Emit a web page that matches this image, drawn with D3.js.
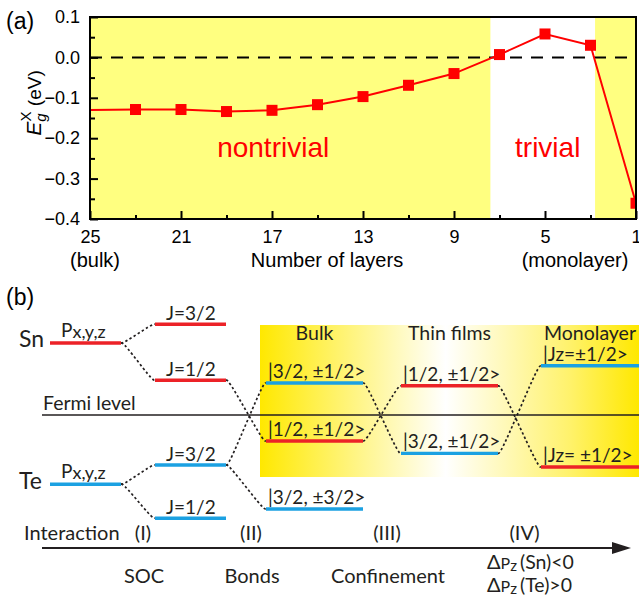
<!DOCTYPE html>
<html><head><meta charset="utf-8">
<script src="https://cdn.jsdelivr.net/npm/d3@7"></script>
<style>body{margin:0;background:#fff}svg{display:block}</style>
</head><body><svg id="c" width="639" height="597"></svg>
<script>
// ---------------- Panel (a) data ----------------
const layers = [25,23,21,19,17,15,13,11,9,7,5,3,1];
const gapEV  = [-0.130,-0.129,-0.129,-0.134,-0.131,-0.117,-0.097,-0.069,-0.040,0.007,0.058,0.030,-0.361];
const xTickValues = [25,21,17,13,9,5,1];
const xMinorValues = [23,19,15,11,7,3];
const yTickValues = [0.1,0.0,-0.1,-0.2,-0.3,-0.4];
const yMinorValues = [0.05,-0.05,-0.15,-0.25,-0.35];
const trivialSpan = [7.4, 2.8];
const phaseLabels = ["nontrivial","trivial"];
const xSubLabels = ["(bulk)","Number of layers","(monolayer)"];

// ---------------- Panel (b) data ----------------
const stageNames   = ["atom","soc","bulk","thin","mono"];
const levelStage   = ["atom","atom","soc","soc","soc","soc","bulk","bulk","bulk","thin","thin","mono","mono"];
const levelSpecies = ["Sn","Te","Sn","Sn","Te","Te","Te","Sn","Te","Sn","Te","Te","Sn"];
const levelEnergy  = [1.8,-1.73,2.27,0.87,-1.25,-2.58,0.8,-0.65,-2.35,0.73,-0.96,1.23,-1.3];
const levelLabel   = ["P|x,y,z","P|x,y,z","J=3/2","J=1/2","J=3/2","J=1/2","|3/2, ±1/2>","|1/2, ±1/2>","|3/2, ±3/2>","|1/2, ±1/2>","|3/2, ±1/2>","|Jz=±1/2>","|Jz= ±1/2>"];
const links = [[0,2],[0,3],[1,4],[1,5],[3,7],[4,6],[4,8],[6,10],[7,9],[9,12],[10,11]];
const atomNames = ["Sn","Te"];
const regimeLabels = ["Bulk","Thin films","Monolayer"];
const stepLabels = ["(I)","(II)","(III)","(IV)"];
const stepNames = ["SOC","Bonds","Confinement"];
const pzConditions = [["Sn","<0"],["Te",">0"]];

const svg = d3.select("#c");
const A = "'Liberation Sans', Arial, sans-serif";
const B = "Lato, 'Open Sans', sans-serif";
const INK = "#231f20";

// ================= Panel (a) =================
const pl = 90, pr = 636, pt = 17, pb = 219;
const x = d3.scaleLinear().domain([25,1]).range([pl,pr]);
const y = d3.scaleLinear().domain([-0.4,0.1]).range([pb,pt]);
const ga = svg.append("g");

ga.append("rect").attr("x",pl).attr("y",pt).attr("width",pr-pl).attr("height",pb-pt).attr("fill","#ffff80");
ga.append("rect").attr("x",x(trivialSpan[0])).attr("y",pt)
  .attr("width",x(trivialSpan[1])-x(trivialSpan[0])).attr("height",pb-pt).attr("fill","#fff");

ga.append("line").attr("x1",pl).attr("x2",pr).attr("y1",y(0)).attr("y2",y(0))
  .attr("stroke","#000").attr("stroke-width",2).attr("stroke-dasharray","12,9");

const defs = svg.append("defs");
defs.append("clipPath").attr("id","pa")
  .append("rect").attr("x",pl).attr("y",pt).attr("width",pr-pl).attr("height",pb-pt);

const pts = layers.map((l,i)=>({l, v:gapEV[i]}));
const gd = ga.append("g").attr("clip-path","url(#pa)");
gd.append("path").datum(pts)
  .attr("d", d3.line().x(d=>x(d.l)).y(d=>y(d.v)))
  .attr("fill","none").attr("stroke","#ff0000").attr("stroke-width",2);
const ms = 11;
gd.selectAll("rect.m").data(pts.slice(1)).join("rect").attr("class","m")
  .attr("x",d=>x(d.l)-ms/2).attr("y",d=>y(d.v)-ms/2).attr("width",ms).attr("height",ms).attr("fill","#ff0000");

// axes
const xAx = ga.append("g").attr("transform",`translate(0,${pb})`)
  .call(d3.axisBottom(x).tickValues(xTickValues).tickFormat(d3.format("d")).tickSizeInner(-8).tickSizeOuter(0).tickPadding(11));
const xAxm = ga.append("g").attr("transform",`translate(0,${pb})`)
  .call(d3.axisBottom(x).tickValues(xMinorValues).tickFormat("").tickSizeInner(-4).tickSizeOuter(0));
const yAx = ga.append("g").attr("transform",`translate(${pl},0)`)
  .call(d3.axisLeft(y).tickValues(yTickValues).tickFormat(d3.format(".1f")).tickSizeInner(-8).tickSizeOuter(0).tickPadding(10));
const yAxm = ga.append("g").attr("transform",`translate(${pl},0)`)
  .call(d3.axisLeft(y).tickValues(yMinorValues).tickFormat("").tickSizeInner(-5).tickSizeOuter(0));
[xAx,xAxm,yAx,yAxm].forEach(g=>{
  g.select(".domain").remove();
  g.selectAll("line").attr("stroke","#000").attr("stroke-width",2);
  g.selectAll("text").attr("font-family",A).attr("font-size",18).attr("fill","#000");
});
ga.append("rect").attr("x",pl).attr("y",pt).attr("width",pr-pl).attr("height",pb-pt)
  .attr("fill","none").attr("stroke","#000").attr("stroke-width",2);

// sub labels under the x axis
const subY = 267;
[[95,xSubLabels[0]],[327,xSubLabels[1]],[575,xSubLabels[2]]].forEach(([xx,t])=>{
  ga.append("text").attr("x",xx).attr("y",subY).text(t)
    .attr("font-family",A).attr("font-size",20).attr("text-anchor","middle").attr("fill","#000");
});

// phase labels
ga.append("text").attr("x",(x(25)+x(trivialSpan[0]))/2-17).attr("y",157).text(phaseLabels[0])
  .attr("font-family",A).attr("font-size",28).attr("fill","#ff0000").attr("text-anchor","middle");
ga.append("text").attr("x",(x(trivialSpan[0])+x(trivialSpan[1]))/2+5).attr("y",157).text(phaseLabels[1])
  .attr("font-family",A).attr("font-size",28).attr("fill","#ff0000").attr("text-anchor","middle");

// y label
const yl = svg.append("text").attr("transform","translate(41,103) rotate(-90)")
  .attr("text-anchor","middle").attr("font-family",A).attr("font-size",19).attr("fill","#000");
yl.append("tspan").attr("font-style","italic").attr("font-size",21).text("E");
yl.append("tspan").attr("font-style","italic").attr("font-size",15).attr("dy",5).text("g");
yl.append("tspan").attr("font-size",15).attr("dx",-8).attr("dy",-15).text("X");
yl.append("tspan").attr("dy",10).text(" (eV)");

svg.append("text").attr("x",6).attr("y",29).text("(a)").attr("font-family",A).attr("font-size",23);
svg.append("text").attr("x",6).attr("y",305).text("(b)").attr("font-family",A).attr("font-size",23);

// ================= Panel (b) =================
const gb = svg.append("g");
const stageExt = {atom:[50,121], soc:[155,226], bulk:[266,363], thin:[401,498], mono:[541,639]};
const E = d3.scaleLinear().domain([0,1]).range([415,375]);
const colorOf = d3.scaleOrdinal().domain(atomNames).range(["#ec2227","#1ba1e2"]);

// gradient box
const grad = defs.append("linearGradient").attr("id","yg").attr("x1","0").attr("x2","1").attr("y1","0").attr("y2","0");
grad.append("stop").attr("offset","0%").attr("stop-color","#ffe800");
grad.append("stop").attr("offset","14%").attr("stop-color","#fff04a");
grad.append("stop").attr("offset","49%").attr("stop-color","#ffffff");
grad.append("stop").attr("offset","82%").attr("stop-color","#fff26a");
grad.append("stop").attr("offset","100%").attr("stop-color","#ffe800");
gb.append("rect").attr("x",260).attr("y",325).attr("width",379).attr("height",152).attr("fill","url(#yg)");

// Fermi level
gb.append("line").attr("x1",42).attr("x2",639).attr("y1",E(0)).attr("y2",E(0)).attr("stroke",INK).attr("stroke-width",1.5);
gb.append("text").attr("x",43).attr("y",410).text("Fermi level").attr("font-family",B).attr("font-size",19.5).attr("fill",INK);

// links
const lvl = levelStage.map((s,i)=>({s, sp:levelSpecies[i], e:levelEnergy[i], lab:levelLabel[i], x0:stageExt[s][0], x1:stageExt[s][1]}));
const curve = d3.line().curve(d3.curveBasis);
gb.selectAll("path.lk").data(links).join("path").attr("class","lk")
  .attr("d",([a,b])=>{
    const p = [lvl[a].x1, E(lvl[a].e)], q = [lvl[b].x0, E(lvl[b].e)];
    return curve([p,[p[0]+3,p[1]],[q[0]-3,q[1]],q]);
  })
  .attr("fill","none").attr("stroke",INK).attr("stroke-width",1.7).attr("stroke-dasharray","2.4,2.4");

// levels
gb.selectAll("line.lv").data(lvl).join("line").attr("class","lv")
  .attr("x1",d=>d.x0).attr("x2",d=>d.x1).attr("y1",d=>E(d.e)).attr("y2",d=>E(d.e))
  .attr("stroke",d=>colorOf(d.sp)).attr("stroke-width",3.4);

// level labels
lvl.forEach(d=>{
  const yy = E(d.e);
  if (d.lab.includes("|x")) {
    const [p,sub] = d.lab.split("|");
    const t = gb.append("text").attr("x",d.x0+11).attr("y",yy-6).attr("font-family",B).attr("fill",INK);
    t.append("tspan").attr("font-size",19).text(p);
    t.append("tspan").attr("font-size",18).attr("dy",1).text(sub);
  } else if (d.s==="soc") {
    gb.append("text").attr("x",d.x0+11).attr("y",yy-4).text(d.lab).attr("font-family",B).attr("font-size",19).attr("fill",INK);
  } else {
    gb.append("text").attr("x",d.x0+2).attr("y",yy-5).text(d.lab).attr("font-family",B).attr("font-size",19).attr("fill",INK);
  }
});

// atom names
gb.append("text").attr("x",19).attr("y",347).text(atomNames[0]).attr("font-family",B).attr("font-size",23).attr("fill",INK);
gb.append("text").attr("x",19).attr("y",489).text(atomNames[1]).attr("font-family",B).attr("font-size",23).attr("fill",INK);

// regime labels
["bulk","thin","mono"].forEach((s,i)=>{
  gb.append("text").attr("x",(stageExt[s][0]+stageExt[s][1])/2).attr("y",340).text(regimeLabels[i])
    .attr("text-anchor","middle").attr("font-family",B).attr("font-size",19.5).attr("fill",INK);
});

// interaction axis
gb.append("text").attr("x",24).attr("y",540).text("Interaction").attr("font-family",B).attr("font-size",20).attr("fill",INK);
gb.append("line").attr("x1",42).attr("x2",618).attr("y1",548).attr("y2",548).attr("stroke",INK).attr("stroke-width",2);
gb.append("path").attr("d","M612,542 L631,548 L612,554 Z").attr("fill",INK);
const mids = d3.pairs(stageNames).map(([a,b])=>(stageExt[a][1]+stageExt[b][0])/2+5);
stepLabels.forEach((t,i)=>{
  gb.append("text").attr("x",mids[i]).attr("y",540).text(t).attr("text-anchor","middle")
    .attr("font-family",B).attr("font-size",20).attr("fill",INK);
});
stepNames.forEach((t,i)=>{
  gb.append("text").attr("x",mids[i]+1).attr("y",583).text(t).attr("text-anchor","middle")
    .attr("font-family",B).attr("font-size",20).attr("fill",INK);
});
pzConditions.forEach(([sp,c],i)=>{
  const t = gb.append("text").attr("x",487).attr("y",569+i*23).attr("font-family",B).attr("font-size",19.5).attr("fill",INK);
  t.append("tspan").attr("font-size",20).text("Δ");
  t.append("tspan").attr("font-size",16).text("P");
  t.append("tspan").attr("font-size",15).attr("dy",2).text("z");
  t.append("tspan").attr("dy",-2).attr("dx",3).text(`(${sp})${c}`);
});
</script></body></html>
